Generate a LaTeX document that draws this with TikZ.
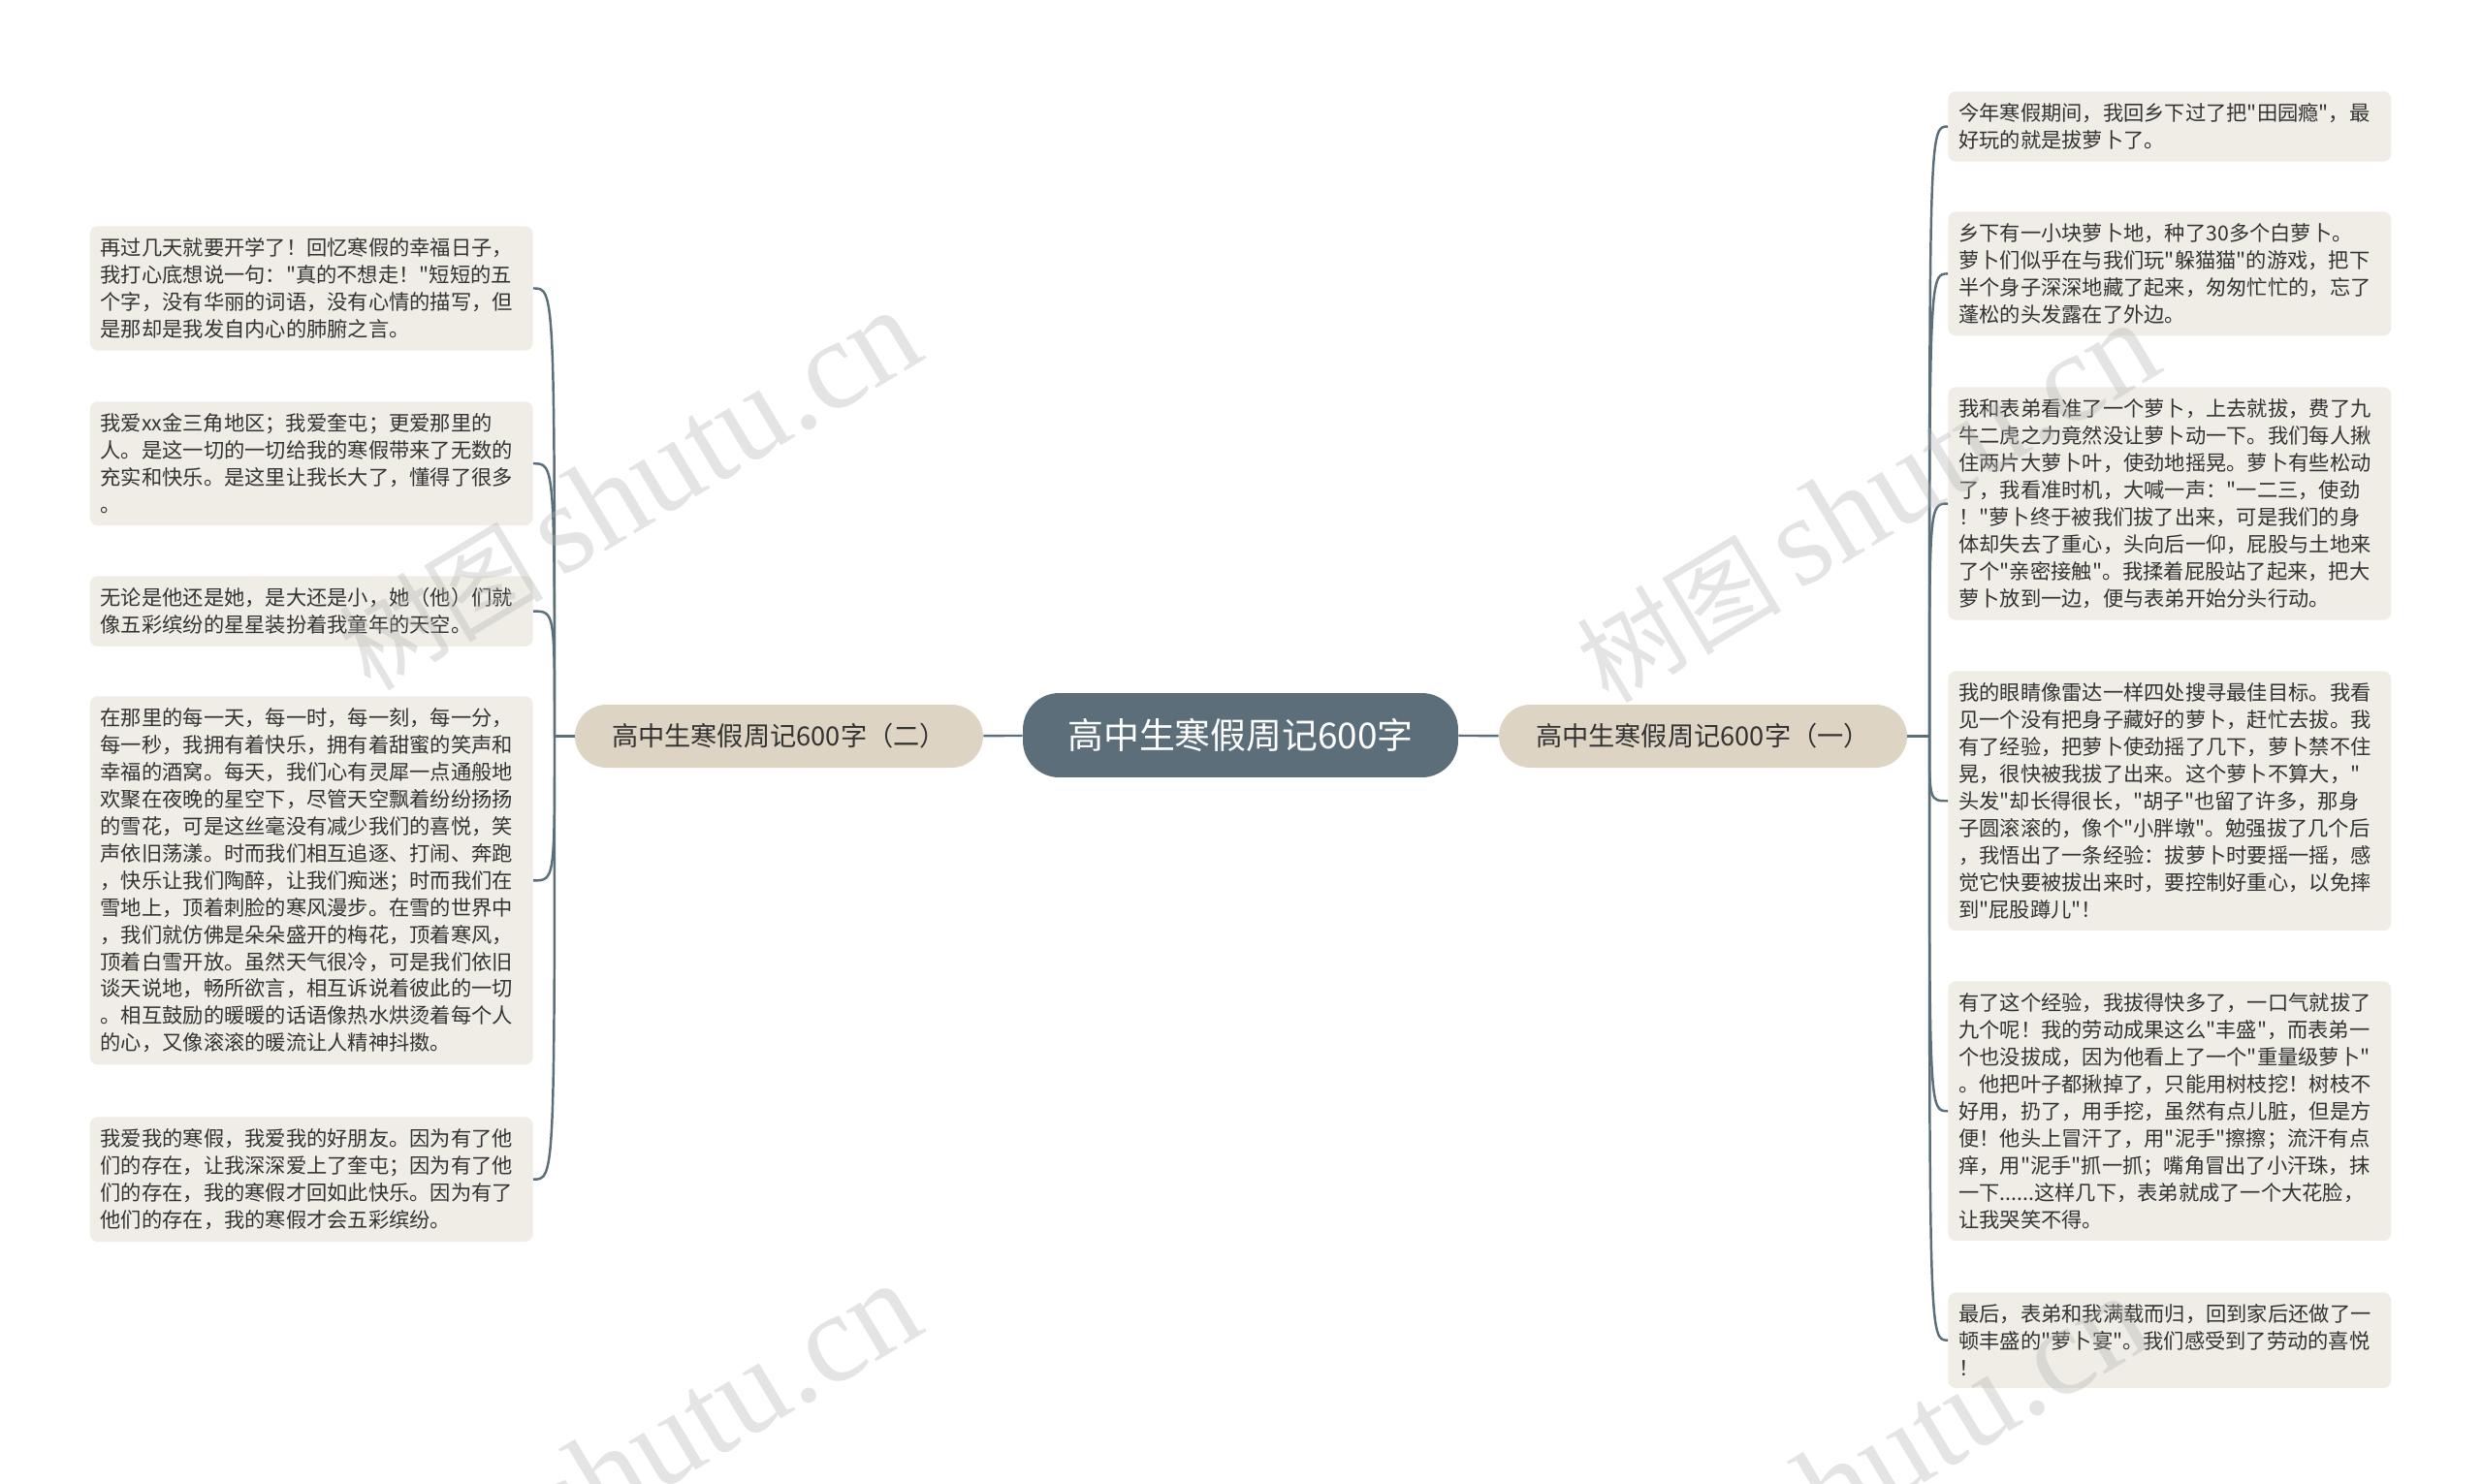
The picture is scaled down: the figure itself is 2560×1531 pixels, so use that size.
\documentclass[tikz,border=0pt]{standalone}
\usepackage{fontspec}
\setmainfont{Noto Sans CJK SC}[Ligatures=TeXOff]
\newfontfamily\marcafont{Liberation Serif}

\definecolor{centrocor}{HTML}{5B6E7A}
\definecolor{ramocor}{HTML}{DDD4C4}
\definecolor{folhacor}{HTML}{F0EDE6}
\definecolor{textocor}{HTML}{333333}

\begin{document}
\begin{tikzpicture}[x=0.02cm, y=-0.02cm]

    % estilos
    \tikzstyle{centro}=[rectangle, rounded corners=0.75cm, fill=centrocor, text=white,
      minimum width=8.98cm, minimum height=1.74cm, font=\fontsize{21pt}{25pt}\selectfont]
    \tikzstyle{ramo}=[rectangle, rounded corners=0.65cm, fill=ramocor, text=textocor,
      minimum width=8.42cm, minimum height=1.3cm, font=\fontsize{15.5pt}{18pt}\selectfont]
    \tikzstyle{folha}=[rectangle, rounded corners=0.16cm, fill=folhacor, text=textocor,
      text width=8.7cm, align=left, inner xsep=0.22cm, inner ysep=7pt,
      font=\fontsize{12.1pt}{15.9pt}\selectfont]
    \tikzstyle{liga}=[line width=1.4pt, draw=centrocor]
    \tikzstyle{marca}=[text=gray!60, opacity=0.35, font=\fontsize{60pt}{60pt}\selectfont]

    \useasboundingbox (0,0) rectangle (2560,1531);

    % nó central e ramos
    \node[centro] (raiz) at (1279.5,758.5) {高中生寒假周记600字};
    \node[ramo] (ramo2) at (803.5,759.5) {高中生寒假周记600字（二）};
    \node[ramo] (ramo1) at (1756.5,759.5) {高中生寒假周记600字（一）};

    \draw[liga] (raiz) -- (ramo2);
    \draw[liga] (raiz) -- (ramo1);

    %======================= ESQUERDA =======================
    \coordinate (fe) at (572,759.5);

    \node[folha, anchor=north east] (e1) at (550,233) {再过几天就要开学了！回忆寒假的幸福日子，\\我打心底想说一句："真的不想走！"短短的五\\个字，没有华丽的词语，没有心情的描写，但\\是那却是我发自内心的肺腑之言。};
    \node[folha, anchor=north east] (e2) at (550,414) {我爱xx金三角地区；我爱奎屯；更爱那里的\\人。是这一切的一切给我的寒假带来了无数的\\充实和快乐。是这里让我长大了，懂得了很多\\。};
    \node[folha, anchor=north east] (e3) at (550,594) {无论是他还是她，是大还是小，她（他）们就\\像五彩缤纷的星星装扮着我童年的天空。};
    \node[folha, anchor=north east] (e4) at (550,718) {在那里的每一天，每一时，每一刻，每一分，\\每一秒，我拥有着快乐，拥有着甜蜜的笑声和\\幸福的酒窝。每天，我们心有灵犀一点通般地\\欢聚在夜晚的星空下，尽管天空飘着纷纷扬扬\\的雪花，可是这丝毫没有减少我们的喜悦，笑\\声依旧荡漾。时而我们相互追逐、打闹、奔跑\\，快乐让我们陶醉，让我们痴迷；时而我们在\\雪地上，顶着刺脸的寒风漫步。在雪的世界中\\，我们就仿佛是朵朵盛开的梅花，顶着寒风，\\顶着白雪开放。虽然天气很冷，可是我们依旧\\谈天说地，畅所欲言，相互诉说着彼此的一切\\。相互鼓励的暖暖的话语像热水烘烫着每个人\\的心，又像滚滚的暖流让人精神抖擞。};
    \node[folha, anchor=north east] (e5) at (550,1152) {我爱我的寒假，我爱我的好朋友。因为有了他\\们的存在，让我深深爱上了奎屯；因为有了他\\们的存在，我的寒假才回如此快乐。因为有了\\他们的存在，我的寒假才会五彩缤纷。};

    % ligações do ramo (二)
    \draw[liga] (ramo2.west) -- (fe);
    \draw[liga] (fe) .. controls (fe |- e1.east) .. (e1.east);
    \draw[liga] (fe) .. controls (fe |- e2.east) .. (e2.east);
    \draw[liga] (fe) .. controls (fe |- e3.east) .. (e3.east);
    \draw[liga] (fe) .. controls (fe |- e4.east) .. (e4.east);
    \draw[liga] (fe) .. controls (fe |- e5.east) .. (e5.east);

    %======================= DIREITA =======================
    \coordinate (fd) at (1990,759.5);

    \node[folha, anchor=north west] (d1) at (2009,94) {今年寒假期间，我回乡下过了把"田园瘾"，最\\好玩的就是拔萝卜了。};
    \node[folha, anchor=north west] (d2) at (2009,218) {乡下有一小块萝卜地，种了30多个白萝卜。\\萝卜们似乎在与我们玩"躲猫猫"的游戏，把下\\半个身子深深地藏了起来，匆匆忙忙的，忘了\\蓬松的头发露在了外边。};
    \node[folha, anchor=north west] (d3) at (2009,399) {我和表弟看准了一个萝卜，上去就拔，费了九\\牛二虎之力竟然没让萝卜动一下。我们每人揪\\住两片大萝卜叶，使劲地摇晃。萝卜有些松动\\了，我看准时机，大喊一声："一二三，使劲\\！"萝卜终于被我们拔了出来，可是我们的身\\体却失去了重心，头向后一仰，屁股与土地来\\了个"亲密接触"。我揉着屁股站了起来，把大\\萝卜放到一边，便与表弟开始分头行动。};
    \node[folha, anchor=north west] (d4) at (2009,692) {我的眼睛像雷达一样四处搜寻最佳目标。我看\\见一个没有把身子藏好的萝卜，赶忙去拔。我\\有了经验，把萝卜使劲摇了几下，萝卜禁不住\\晃，很快被我拔了出来。这个萝卜不算大，"\\头发"却长得很长，"胡子"也留了许多，那身\\子圆滚滚的，像个"小胖墩"。勉强拔了几个后\\，我悟出了一条经验：拔萝卜时要摇一摇，感\\觉它快要被拔出来时，要控制好重心，以免摔\\到"屁股蹲儿"！};
    \node[folha, anchor=north west] (d5) at (2009,1012) {有了这个经验，我拔得快多了，一口气就拔了\\九个呢！我的劳动成果这么"丰盛"，而表弟一\\个也没拔成，因为他看上了一个"重量级萝卜"\\。他把叶子都揪掉了，只能用树枝挖！树枝不\\好用，扔了，用手挖，虽然有点儿脏，但是方\\便！他头上冒汗了，用"泥手"擦擦；流汗有点\\痒，用"泥手"抓一抓；嘴角冒出了小汗珠，抹\\一下......这样几下，表弟就成了一个大花脸，\\让我哭笑不得。};
    \node[folha, anchor=north west] (d6) at (2009,1333) {最后，表弟和我满载而归，回到家后还做了一\\顿丰盛的"萝卜宴"。我们感受到了劳动的喜悦\\！};

    % ligações do ramo (一)
    \draw[liga] (ramo1.east) -- (fd);
    \draw[liga] (fd) .. controls (fd |- d1.west) .. (d1.west);
    \draw[liga] (fd) .. controls (fd |- d2.west) .. (d2.west);
    \draw[liga] (fd) .. controls (fd |- d3.west) .. (d3.west);
    \draw[liga] (fd) .. controls (fd |- d4.west) .. (d4.west);
    \draw[liga] (fd) .. controls (fd |- d5.west) .. (d5.west);
    \draw[liga] (fd) .. controls (fd |- d6.west) .. (d6.west);

    % marcas d'água
    \node[marca, rotate=31] (m1) at (649,506) {树图\,{\marcafont\fontsize{75pt}{75pt}\selectfont shutu.cn}};
    \node[marca, rotate=31] (m2) at (1926,519) {树图\,{\marcafont\fontsize{75pt}{75pt}\selectfont shutu.cn}};
    \node[marca, rotate=31] (m3) at (649,1510) {树图\,{\marcafont\fontsize{75pt}{75pt}\selectfont shutu.cn}};
    \node[marca, rotate=31] (m4) at (1916,1523) {树图\,{\marcafont\fontsize{75pt}{75pt}\selectfont shutu.cn}};

\end{tikzpicture}
\end{document}
